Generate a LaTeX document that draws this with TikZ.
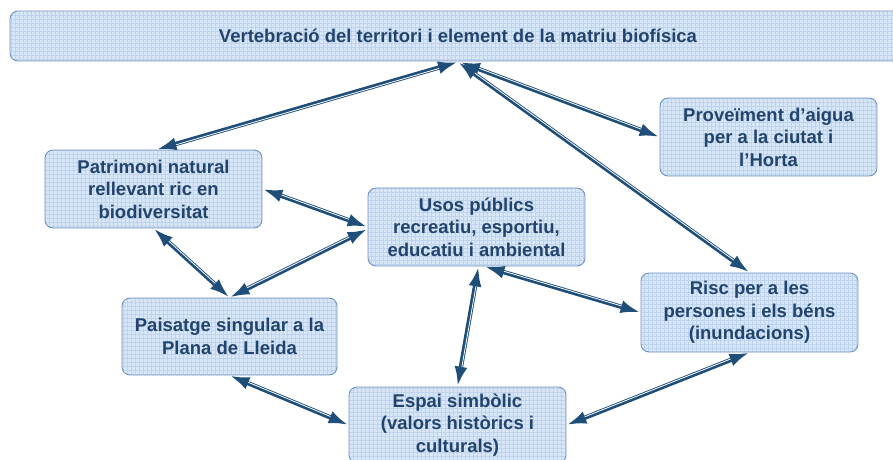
\documentclass[tikz,border=0pt]{standalone}
\usepackage{fontspec}
\setmainfont{Liberation Sans}
\usetikzlibrary{arrows.meta,calc}
\definecolor{txt}{HTML}{22446C}
\definecolor{arr}{HTML}{1F4E79}
\definecolor{bfill}{HTML}{D8E7F7}
\definecolor{bgrid}{HTML}{BDD3EE}
\definecolor{bdraw}{HTML}{7093C0}
\tikzset{
  box/.style={draw=bdraw, line width=0.9pt, fill=bfill, rounded corners=8pt,
    minimum width=217pt, minimum height=78pt, align=center, text=txt,
    font=\fontsize{18.5}{22.5}\selectfont\bfseries, inner sep=0pt,
    path picture={\draw[bgrid, line width=0.3pt, step=4pt]
      (path picture bounding box.south west) grid (path picture bounding box.north east);}},
  conn/.style={draw=arr, line width=4.4pt,
    arrows={Latex[length=20pt,width=13pt]-Latex[length=20pt,width=13pt]}},
  stripe/.style={draw=white, line width=0.8pt, shorten <=20pt, shorten >=20pt}
}
\newcommand{\biarr}[2]{\draw[conn] (#1) -- (#2);
  \draw[stripe] ($(#1)!0.9pt!90:(#2)$) -- ($(#2)!0.9pt!-90:(#1)$);}
\begin{document}
\begin{tikzpicture}[x=1pt,y=-1pt]
\useasboundingbox (0,0) rectangle (893,459);
\node[box, minimum width=896pt, minimum height=50pt] (top) at (458,36)
  {Vertebració del territori i element de la matriu biofísica};
\node[box] (pat) at (153.5,189) {Patrimoni natural\\rellevant ric en\\biodiversitat};
\node[box] (usos) at (476.5,227) {Usos públics\\recreatiu, esportiu,\\educatiu i ambiental};
\node[box, minimum width=215pt, minimum height=77pt] (pais) at (229.5,336.5) {Paisatge singular a la\\Plana de Lleida};
\node[box, minimum height=76pt] (espai) at (457.5,425) {Espai simbòlic\\(valors històrics i\\culturals)};
\node[box] (prov) at (768.5,137) {Proveïment d’aigua\\per a la ciutat i\\l’Horta};
\node[box, minimum height=79pt] (risc) at (749.5,312.5) {Risc per a les\\persones i els béns\\(inundacions)};
\coordinate (hub) at (458,62);
\coordinate (hub2) at ([xshift=2pt]hub);
\coordinate (patN) at ([xshift=3pt]pat.north);
\coordinate (usosW2) at ([yshift=-2pt]usos.west);
\coordinate (usosS1) at ([xshift=2pt]usos.south);
\coordinate (usosS2) at ([xshift=8pt]usos.south);
\biarr{hub}{patN}
\biarr{hub2}{prov.west}
\biarr{hub}{risc.north}
\biarr{pat.east}{usos.west}
\biarr{pais.north}{usosW2}
\biarr{pat.south}{pais.north}
\biarr{usosS1}{espai.north}
\biarr{usosS2}{risc.west}
\biarr{pais.south}{espai.west}
\biarr{espai.east}{risc.south}
\end{tikzpicture}
\end{document}
